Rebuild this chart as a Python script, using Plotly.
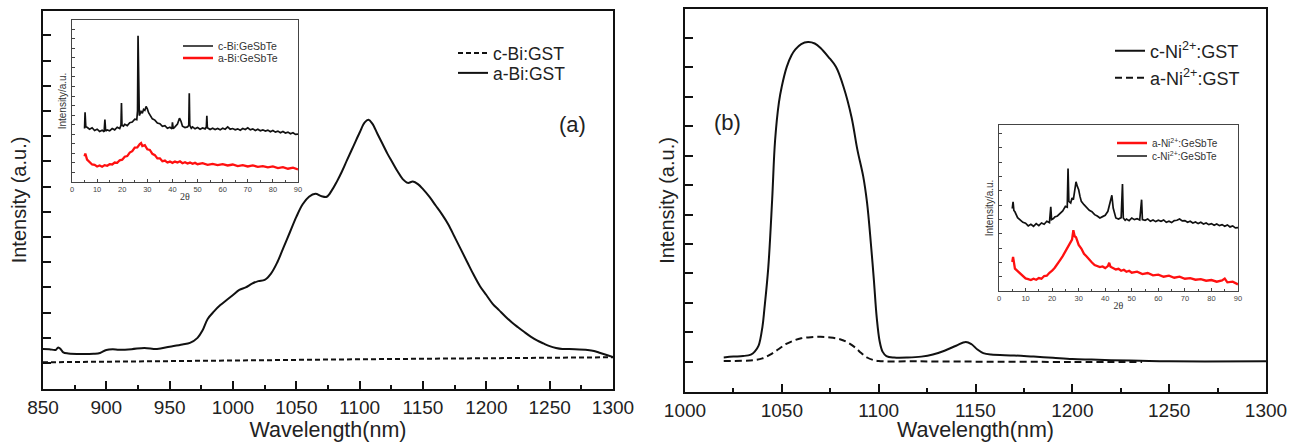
import plotly.graph_objects as go

# ---------------- Panel (a): Bi:GST emission ----------------
a_cbi_x = [850, 900, 1000, 1100, 1200, 1300]
a_cbi_y = [0.03, 0.06, 0.10, 0.15, 0.19, 0.23]

a_abi_x = [850, 855, 860, 862, 864, 866, 870, 880, 890, 895, 900, 905, 910, 920, 930, 940,
           950, 960, 966, 972, 976, 980, 985, 990, 995, 1000, 1005, 1010, 1015, 1020, 1025,
           1030, 1035, 1040, 1045, 1050, 1055, 1060, 1065, 1070, 1074, 1078, 1082, 1086,
           1090, 1095, 1100, 1104, 1107, 1110, 1114, 1118, 1122, 1126, 1130, 1134, 1138,
           1142, 1146, 1150, 1155, 1160, 1165, 1170, 1175, 1180, 1185, 1190, 1195, 1200,
           1205, 1210, 1215, 1220, 1225, 1230, 1235, 1240, 1245, 1250, 1255, 1260, 1270,
           1280, 1285, 1290, 1295, 1300]
a_abi_y = [0.56, 0.55, 0.52, 0.62, 0.55, 0.42, 0.38, 0.36, 0.37, 0.40, 0.52, 0.55, 0.53, 0.55,
           0.60, 0.56, 0.65, 0.74, 0.80, 1.00, 1.30, 1.75, 2.05, 2.30, 2.50, 2.70, 2.90, 3.00,
           3.15, 3.25, 3.30, 3.55, 4.00, 4.60, 5.20, 5.80, 6.30, 6.60, 6.72, 6.62, 6.60, 6.85,
           7.20, 7.60, 8.05, 8.60, 9.15, 9.55, 9.65, 9.50, 9.10, 8.70, 8.30, 7.95, 7.60, 7.30,
           7.15, 7.20, 7.10, 6.90, 6.60, 6.25, 5.90, 5.50, 5.00, 4.50, 4.00, 3.50, 3.05, 2.70,
           2.35, 2.10, 1.85, 1.62, 1.42, 1.23, 1.05, 0.90, 0.78, 0.67, 0.60, 0.56, 0.55, 0.52,
           0.48, 0.40, 0.32, 0.24]

# inset (a): XRD
xa_c_x = [5, 5.2, 5.5, 6, 7, 8, 9, 10, 11, 12, 12.8, 13.1, 13.4, 14, 15, 16, 17, 18, 19, 19.5,
          19.7, 19.9, 20.5, 21, 22, 23, 24, 25, 25.8, 26.1, 26.3, 26.5, 26.8, 27.5, 28, 28.5,
          29, 29.5, 30, 30.5, 31, 32, 33, 34, 35, 36, 37, 38, 39, 39.8, 40, 40.3, 41, 42, 42.8,
          43.4, 44, 45, 46, 46.5, 46.7, 46.9, 47.5, 48, 49, 50, 51, 52, 53, 53.5, 53.7, 53.9,
          55, 56, 57, 58, 59, 60, 61, 62, 63, 64, 65, 66, 67, 68, 69, 70, 71, 72, 73, 74, 75,
          76, 77, 78, 79, 80, 81, 82, 83, 84, 85, 86, 87, 88, 89, 90]
xa_c_y = [33.0, 43.0, 34.0, 33.8, 32.6, 33.5, 31.8, 32.6, 31.2, 32.0, 31.0, 38.5, 31.5, 32.2,
          31.6, 33.0, 32.2, 33.8, 33.0, 35.0, 48.7, 35.0, 34.5, 35.6, 34.8, 36.6, 37.0, 38.8,
          38.5, 44.0, 90.3, 44.0, 41.0, 43.5, 42.5, 44.8, 44.2, 46.6, 45.2, 42.8, 41.5, 39.0,
          38.2, 36.4, 36.0, 34.4, 34.8, 33.2, 33.8, 32.8, 36.8, 33.0, 34.0, 35.8, 39.4, 37.5,
          34.4, 33.6, 34.0, 35.0, 54.8, 35.0, 33.2, 34.0, 32.8, 33.6, 32.6, 33.4, 32.8, 34.0,
          40.9, 33.5, 32.4, 33.2, 32.4, 33.0, 32.2, 33.2, 32.6, 34.0, 32.6, 33.0, 32.2, 32.8,
          32.0, 33.0, 32.4, 33.4, 32.2, 32.8, 31.8, 32.6, 31.6, 32.2, 31.4, 32.0, 31.0, 31.8,
          30.8, 31.4, 30.4, 31.2, 30.2, 30.8, 29.8, 30.4, 29.4, 29.6]
xa_a_x = [5, 5.3, 6, 7, 8, 9, 10, 11, 12, 13, 14, 15, 16, 17, 18, 19, 20, 21, 22, 23, 24, 25,
          26, 27, 27.5, 28, 29, 30, 31, 32, 33, 34, 35, 36, 37, 38, 39, 40, 41, 42, 43, 44, 45,
          46, 47, 48, 49, 50, 52, 54, 56, 58, 60, 62, 64, 66, 68, 70, 72, 74, 76, 78, 80, 82,
          84, 86, 88, 90]
xa_a_y = [15.8, 17.5, 13.8, 12.0, 10.8, 10.6, 9.6, 10.2, 9.4, 10.4, 10.0, 11.0, 10.8, 12.0,
          11.8, 13.4, 13.8, 15.6, 16.0, 18.2, 19.0, 21.2, 21.4, 23.4, 24.0, 22.2, 22.8, 20.2,
          19.8, 17.4, 16.6, 14.6, 14.6, 12.8, 13.2, 12.0, 12.6, 11.8, 12.6, 12.0, 12.8, 11.6,
          12.2, 11.4, 12.0, 11.2, 11.8, 11.0, 11.6, 10.6, 11.2, 10.4, 11.0, 10.2, 10.8, 9.8,
          10.4, 9.6, 10.2, 9.4, 9.8, 9.0, 9.6, 8.6, 9.2, 8.2, 8.8, 7.8]

# ---------------- Panel (b): Ni2+:GST emission ----------------
b_cni_x = [1020, 1025, 1030, 1034, 1036, 1038, 1040, 1041, 1043, 1045, 1046.5, 1048.5, 1050,
           1052.5, 1055, 1057, 1060, 1063.5, 1067, 1070, 1074, 1078, 1082, 1086, 1089, 1092,
           1094, 1096, 1097.5, 1099, 1100.5, 1102, 1104, 1108, 1115, 1122, 1128, 1134, 1140,
           1145, 1148, 1151, 1154, 1158, 1170, 1180, 1190, 1200, 1210, 1220, 1235, 1250, 1300]
b_cni_y = [0.15, 0.18, 0.20, 0.25, 0.35, 0.55, 1.20, 1.80, 3.20, 5.50, 7.50, 8.80, 9.35, 10.0,
           10.4, 10.6, 10.78, 10.85, 10.8, 10.65, 10.35, 10.0, 9.3, 8.3, 7.2, 6.3, 5.4, 4.0,
           2.8, 1.5, 0.7, 0.35, 0.20, 0.15, 0.15, 0.18, 0.25, 0.38, 0.55, 0.68, 0.60, 0.42,
           0.30, 0.25, 0.22, 0.18, 0.14, 0.10, 0.08, 0.06, 0.04, 0.02, 0.02]
b_ani_x = [1020, 1030, 1036, 1040, 1044, 1048, 1052, 1056, 1060, 1065, 1070, 1075, 1080, 1084,
           1088, 1091, 1094, 1097, 1100, 1120, 1150, 1200, 1236]
b_ani_y = [0.03, 0.04, 0.06, 0.12, 0.25, 0.42, 0.60, 0.72, 0.80, 0.84, 0.85, 0.83, 0.77, 0.66,
           0.48, 0.30, 0.15, 0.07, 0.03, 0.02, 0.01, 0.0, 0.0]

# inset (b): XRD
xb_c_x = [5, 5.3, 5.6, 6, 7, 8, 9, 10, 11, 12, 13, 14, 15, 16, 17, 18, 19, 19.5, 19.8, 20.5,
          21, 22, 23, 24, 25, 25.7, 26.0, 26.3, 27, 27.5, 28, 28.5, 29, 29.5, 30, 30.5, 31, 32,
          33, 34, 35, 36, 37, 38, 39, 40, 41, 42, 42.5, 43, 44, 45, 46, 46.5, 46.8, 47.5, 48,
          49, 50, 51, 52, 53, 53.7, 54, 55, 56, 57, 58, 59, 60, 61, 62, 63, 64, 65, 66, 67, 68,
          69, 70, 71, 72, 73, 74, 75, 76, 77, 78, 79, 80, 81, 82, 83, 84, 85, 86, 87, 88, 89, 90]
xb_c_y = [49.7, 53.7, 48.5, 47.7, 44.2, 42.8, 41.4, 40.8, 39.2, 40.2, 39.0, 40.6, 39.4, 41.0,
          40.2, 42.0, 41.2, 50.7, 43.0, 43.6, 44.6, 45.2, 47.0, 48.2, 51.0, 50.5, 73.8, 54.0,
          53.0, 56.0, 55.0, 60.0, 65.8, 63.0, 61.0, 57.0, 54.0, 52.0, 50.4, 48.6, 47.8, 46.0,
          45.2, 44.0, 44.8, 45.6, 48.0, 55.0, 57.7, 50.0, 44.0, 43.4, 44.2, 64.4, 44.0, 42.6,
          43.4, 42.4, 44.0, 43.0, 43.6, 42.8, 55.0, 43.0, 42.6, 43.4, 42.0, 42.8, 41.8, 42.6,
          42.0, 42.8, 41.4, 42.0, 41.2, 42.4, 42.6, 43.4, 42.2, 42.4, 41.4, 42.0, 41.0, 41.6,
          40.6, 41.4, 40.4, 41.0, 40.0, 40.6, 39.6, 40.4, 39.4, 40.0, 39.0, 39.8, 38.6, 39.2,
          38.0, 38.2]
xb_a_x = [5, 5.3, 6, 7, 8, 9, 10, 11, 12, 13, 14, 15, 16, 17, 18, 19, 20, 21, 22, 23, 24, 25,
          26, 27, 27.5, 28, 28.5, 29, 30, 31, 32, 33, 34, 35, 36, 37, 38, 39, 40, 41, 41.5, 42,
          43, 44, 45, 46, 47, 48, 49, 50, 52, 54, 56, 58, 60, 62, 64, 66, 68, 70, 72, 74, 76,
          78, 80, 82, 84, 85, 86, 88, 90]
xb_a_y = [17.5, 20.5, 13.5, 12.0, 10.2, 8.8, 7.6, 7.2, 6.6, 7.4, 6.8, 7.8, 7.4, 9.0, 9.2, 11.0,
          12.2, 14.0, 16.0, 18.6, 21.0, 23.8, 26.0, 29.6, 31.0, 36.6, 33.0, 32.4, 27.8, 25.6,
          22.4, 20.8, 18.8, 17.2, 15.6, 15.2, 14.4, 14.8, 13.8, 15.0, 17.0, 14.6, 14.0, 13.0,
          13.4, 12.2, 12.8, 11.6, 12.2, 11.0, 11.6, 10.2, 10.8, 9.4, 9.8, 8.6, 9.2, 8.0, 8.6,
          7.4, 7.8, 6.8, 7.2, 6.2, 6.6, 5.6, 6.4, 7.5, 5.2, 5.6, 4.0]

main_ticks = [850, 900, 950, 1000, 1050, 1100, 1150, 1200, 1250, 1300]
b_ticks = [1000, 1050, 1100, 1150, 1200, 1250, 1300]
inset_ticks = [0, 10, 20, 30, 40, 50, 60, 70, 80, 90]

SANS = "Liberation Sans, Arial, sans-serif"
W, H = 1291, 442


def px(x):
    return x / W


def py(y):
    return 1 - y / H


fig = go.Figure()

# main (a)
fig.add_trace(go.Scatter(x=a_cbi_x, y=a_cbi_y, mode="lines", name="c-Bi:GST",
                         line=dict(color="#111", width=2, dash="5px,3px"),
                         xaxis="x", yaxis="y", legend="legend", showlegend=True))
fig.add_trace(go.Scatter(x=a_abi_x, y=a_abi_y, mode="lines", name="a-Bi:GST",
                         line=dict(color="#111", width=2), line_shape="spline",
                         xaxis="x", yaxis="y", legend="legend2", showlegend=True))
# inset (a)
fig.add_trace(go.Scatter(x=xa_c_x, y=xa_c_y, mode="lines", name="c-Bi:GeSbTe",
                         line=dict(color="#111", width=1.7),
                         xaxis="x3", yaxis="y3", legend="legend3", showlegend=True))
fig.add_trace(go.Scatter(x=xa_a_x, y=xa_a_y, mode="lines", name="a-Bi:GeSbTe",
                         line=dict(color="#ff1010", width=2.3),
                         xaxis="x3", yaxis="y3", legend="legend4", showlegend=True))
# main (b)
fig.add_trace(go.Scatter(x=b_cni_x, y=b_cni_y, mode="lines", name="c-Ni<sup>2+</sup>:GST",
                         line=dict(color="#111", width=2), line_shape="spline",
                         xaxis="x2", yaxis="y2", legend="legend5", showlegend=True))
fig.add_trace(go.Scatter(x=b_ani_x, y=b_ani_y, mode="lines", name="a-Ni<sup>2+</sup>:GST",
                         line=dict(color="#111", width=2, dash="7px,4px"), line_shape="spline",
                         xaxis="x2", yaxis="y2", legend="legend6", showlegend=True))
# inset (b)
fig.add_trace(go.Scatter(x=xb_a_x, y=xb_a_y, mode="lines", name="a-Ni<sup>2+</sup>:GeSbTe",
                         line=dict(color="#ff1010", width=2.3),
                         xaxis="x4", yaxis="y4", legend="legend7", showlegend=True))
fig.add_trace(go.Scatter(x=xb_c_x, y=xb_c_y, mode="lines", name="c-Ni<sup>2+</sup>:GeSbTe",
                         line=dict(color="#111", width=1.7),
                         xaxis="x4", yaxis="y4", legend="legend8", showlegend=True))

frame = dict(showline=True, linecolor="#111", linewidth=1.6, mirror=True,
             showgrid=False, zeroline=False, automargin=False)
iframe = {**frame, "linewidth": 0.8, "linecolor": "#444"}


def leg(x, y, size, color="#222"):
    return dict(x=px(x), y=py(y), xanchor="left", yanchor="middle",
                bgcolor="rgba(0,0,0,0)", borderwidth=0, visible=True,
                font=dict(size=size, family=SANS, color=color))


fig.update_layout(
    width=W, height=H,
    showlegend=True,
    margin=dict(l=0, r=0, t=0, b=0),
    paper_bgcolor="white", plot_bgcolor="white",
    font=dict(family=SANS, color="#222"),
    xaxis=dict(domain=[px(43), px(613)], range=[850, 1300], tickvals=main_ticks,
               ticks="inside", ticklen=8, tickwidth=1.5, tickcolor="#111",
               minor=dict(ticks="inside", ticklen=4, dtick=25, tickcolor="#111", tickwidth=1.5),
               tickfont=dict(size=19, family=SANS, color="#222"),
               title=dict(text="Wavelength(nm)", font=dict(size=21.5, family=SANS, color="#222"),
                          standoff=1),
               anchor="y", **frame),
    yaxis=dict(domain=[py(389), py(11)], range=[-1.03, 13.97], dtick=1, tick0=0,
               ticks="inside", ticklen=8, tickwidth=1.5, tickcolor="#111",
               showticklabels=False,
               title=dict(text="Intensity (a.u.)", font=dict(size=20, family=SANS, color="#222"),
                          standoff=9),
               anchor="x", **frame),
    xaxis2=dict(domain=[px(685), px(1266)], range=[1000, 1300], tickvals=b_ticks,
                ticks="inside", ticklen=8, tickwidth=1.5, tickcolor="#111",
                minor=dict(ticks="inside", ticklen=4, dtick=25, tickcolor="#111", tickwidth=1.5),
                tickfont=dict(size=19, family=SANS, color="#222"),
                title=dict(text="Wavelength(nm)", font=dict(size=21.5, family=SANS, color="#222"),
                           standoff=4),
                anchor="y2", **frame),
    yaxis2=dict(domain=[py(392), py(9)], range=[-1.02, 11.97], dtick=1, tick0=0,
                ticks="inside", ticklen=8, tickwidth=1.5, tickcolor="#111",
                showticklabels=False,
                title=dict(text="Intensity (a.u.)", font=dict(size=20, family=SANS, color="#222"),
                           standoff=3),
                anchor="x2", **frame),
    xaxis3=dict(domain=[px(72), px(298)], range=[0, 90], tickvals=inset_ticks,
                ticks="inside", ticklen=3, tickwidth=0.8, tickcolor="#444",
                minor=dict(ticks="inside", ticklen=2, dtick=5, tickcolor="#444"),
                tickfont=dict(size=7.5, family=SANS, color="#444"),
                title=dict(text="2θ", font=dict(size=10, family="Liberation Serif", color="#333"),
                           standoff=0),
                anchor="y3", **iframe),
    yaxis3=dict(domain=[py(182), py(20)], range=[0, 100], tick0=5.95, dtick=5.89,
                ticks="inside", ticklen=3, tickwidth=0.8, tickcolor="#444",
                showticklabels=False,
                title=dict(text="Intensity/a.u.", font=dict(size=10, family=SANS, color="#333"),
                           standoff=2),
                anchor="x3", **iframe),
    xaxis4=dict(domain=[px(999), px(1238)], range=[0, 90], tickvals=inset_ticks,
                ticks="inside", ticklen=3, tickwidth=0.8, tickcolor="#444",
                minor=dict(ticks="inside", ticklen=2, dtick=5, tickcolor="#444"),
                tickfont=dict(size=7.5, family=SANS, color="#444"),
                title=dict(text="2θ", font=dict(size=10, family="Liberation Serif", color="#333"),
                           standoff=0),
                anchor="y4", **iframe),
    yaxis4=dict(domain=[py(291), py(125)], range=[0, 100], tick0=8.45, dtick=8.65,
                ticks="inside", ticklen=3, tickwidth=0.8, tickcolor="#444",
                showticklabels=False,
                title=dict(text="Intensity/a.u.", font=dict(size=10, family=SANS, color="#333"),
                           standoff=2),
                anchor="x4", **iframe),
    legend=leg(453, 53, 17.5),
    legend2=leg(453, 73, 17.5),
    legend3=leg(178, 46, 10.5, "#333"),
    legend4=leg(178, 58, 10.5, "#333"),
    legend5=leg(1110, 51, 18),
    legend6=leg(1110, 78, 18),
    legend7=leg(1112, 143, 10, "#333"),
    legend8=leg(1112, 156, 10, "#333"),
    annotations=[
        dict(text="(a)", x=px(572), y=py(124), xref="paper", yref="paper",
             xanchor="center", yanchor="middle",
             showarrow=False, font=dict(size=22, family=SANS, color="#222")),
        dict(text="(b)", x=px(727), y=py(122), xref="paper", yref="paper",
             xanchor="center", yanchor="middle",
             showarrow=False, font=dict(size=22, family=SANS, color="#222")),
    ],
)

fig.write_html("out.html", config={"displayModeBar": False},
               post_script="document.body.style.margin='0px';")
